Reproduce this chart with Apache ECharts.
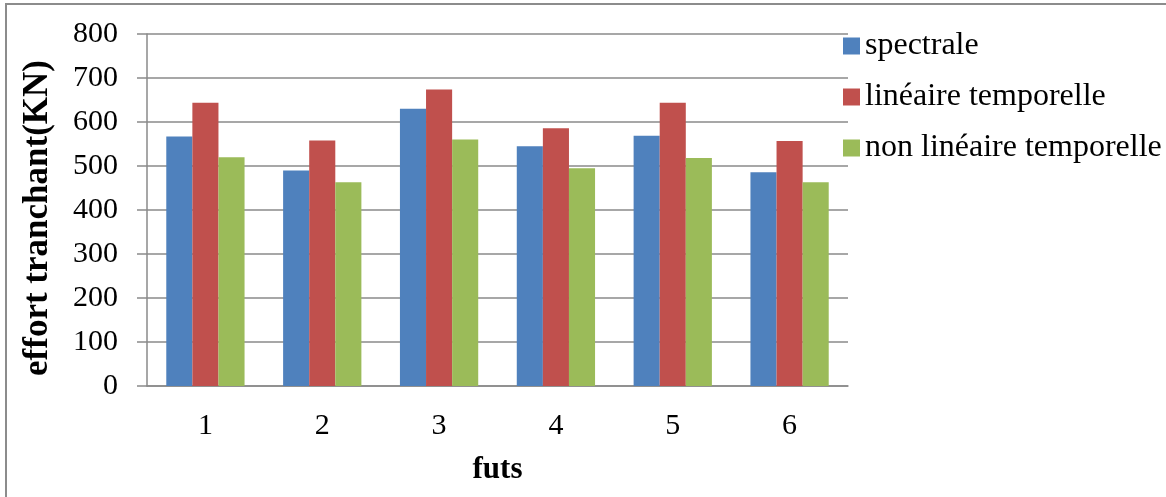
<!DOCTYPE html>
<html>
<head>
<meta charset="utf-8">
<script src="https://cdn.jsdelivr.net/npm/echarts@6/dist/echarts.min.js"></script>
<style>
  html, body { margin: 0; padding: 0; background: #fff; }
  #chart { width: 1166px; height: 497px; }
</style>
</head>
<body>
<div id="chart"></div>
<script>
// Shear force per pile, three analysis methods
const categories = ['1', '2', '3', '4', '5', '6'];
const seriesNames = ['spectrale', 'linéaire temporelle', 'non linéaire temporelle'];
const spectrale = [567, 490, 630, 545, 569, 486];
const lineaireTemporelle = [644, 558, 674, 586, 644, 557];
const nonLineaireTemporelle = [520, 463, 560, 495, 518, 463];
const yTicks = { min: 0, max: 800, interval: 100 };

const colors = ['#4F81BD', '#C0504D', '#9BBB59'];
const font = '"Liberation Serif", "Times New Roman", serif';
const gridColor = '#8a8a8a';

const chart = echarts.init(document.getElementById('chart'), null, { renderer: 'canvas' });

const values = [spectrale, lineaireTemporelle, nonLineaireTemporelle];

chart.setOption({
  animation: false,
  backgroundColor: '#fff',
  color: colors,
  graphic: [{
    type: 'rect',
    shape: { x: 6, y: 4, width: 1200, height: 600 },
    style: { fill: 'none', stroke: '#8c8c8c', lineWidth: 2 },
    silent: true
  }],
  grid: { left: 147, right: 318, top: 34, bottom: 111, containLabel: false },
  legend: {
    orient: 'vertical',
    left: 838,
    top: 25,
    itemWidth: 17,
    itemHeight: 17,
    itemGap: 19,
    icon: 'rect',
    textStyle: { fontFamily: font, fontSize: 32, color: '#000' },
    data: seriesNames
  },
  xAxis: {
    type: 'category',
    data: categories,
    name: 'futs',
    nameLocation: 'middle',
    nameGap: 68,
    nameTextStyle: { fontFamily: font, fontSize: 31, fontWeight: 'bold', color: '#000' },
    axisLine: { lineStyle: { color: gridColor, width: 1.5 } },
    axisTick: { show: false },
    axisLabel: { fontFamily: font, fontSize: 30, color: '#000', margin: 25 }
  },
  yAxis: {
    type: 'value',
    min: yTicks.min,
    max: yTicks.max,
    interval: yTicks.interval,
    name: 'effort tranchant(KN)',
    nameLocation: 'middle',
    nameGap: 92,
    nameRotate: 90,
    nameTextStyle: { fontFamily: font, fontSize: 35, fontWeight: 'bold', color: '#000', padding: [0, 16, 0, 0] },
    axisLine: { show: true, lineStyle: { color: gridColor, width: 1.5 } },
    axisTick: { show: true, length: 10, lineStyle: { color: gridColor, width: 1.5 } },
    axisLabel: { fontFamily: font, fontSize: 30, color: '#000', margin: 29 },
    splitLine: { lineStyle: { color: gridColor, width: 1.5 } }
  },
  series: seriesNames.map((name, i) => ({
    name: name,
    type: 'bar',
    data: values[i],
    barGap: '0%',
    barCategoryGap: '33%',
    itemStyle: { color: colors[i] }
  }))
});
</script>
</body>
</html>
